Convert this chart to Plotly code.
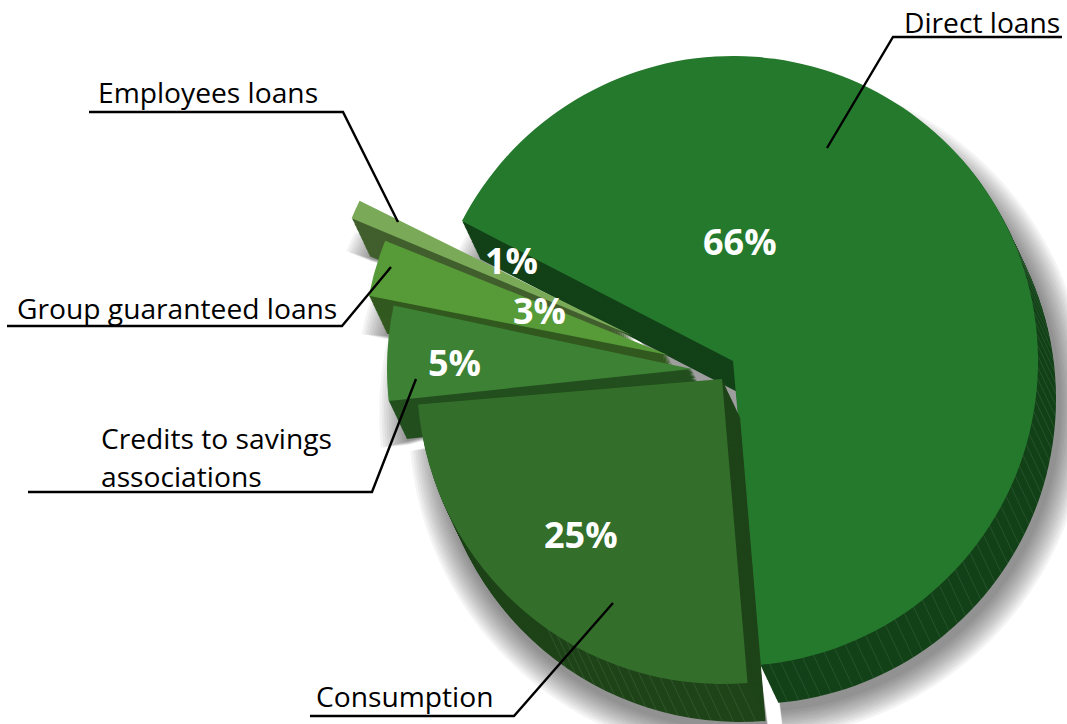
import math
import plotly.graph_objects as go

W, H = 1067, 724

# Loan portfolio shares, in percent
categories = ["Direct loans", "Consumption", "Credits to savings associations",
              "Group guaranteed loans", "Employees loans"]
shares = [66, 25, 5, 3, 1]

top_colors = ["#25792d", "#336f2b", "#3d8135", "#579b38", "#7aaa58"]
side_colors = ["#134118", "#1f4419", "#234f1e", "#32591f", "#425f2e"]

# Exploded placement of each wedge: tip position and clockwise start angle
tips = [(733, 361), (722, 379), (692, 369), (668, 355), (633, 336)]
start_angles = [297.3, 175.2, 264.0, 281.2, 292.7]
RADIUS = 305
EXTRUDE = (18, 38)
DEPTH_LAYERS = 30
SHADOW_LAYERS = 12

# Painter's order: back wedge first, front wedge last
draw_order = [0, 4, 3, 2, 1]


def wedge(i, dx, dy, color):
    """One pie trace showing only wedge i, centred on its own tip plus an offset."""
    cx = tips[i][0] + dx
    cy = tips[i][1] + dy
    r = RADIUS
    before = sum(shares[:i]) / sum(shares) * 360
    colors = ["rgba(0,0,0,0)"] * len(shares)
    colors[i] = color
    return go.Pie(
        labels=categories,
        values=shares,
        sort=False,
        direction="clockwise",
        rotation=((start_angles[i] - before + 180) % 360) - 180,
        domain=dict(x=[(cx - r) / W, (cx + r) / W],
                    y=[1 - (cy + r) / H, 1 - (cy - r) / H]),
        marker=dict(colors=colors, line=dict(width=0)),
        textinfo="none",
        hoverinfo="skip",
        showlegend=False,
    )


def px(x, y):
    return f"{x / W:.5f} {1 - y / H:.5f}"


def polyline(points):
    return "M" + " L".join(px(x, y) for x, y in points)


def rim_point(i, angle, radius=RADIUS):
    a = math.radians(angle)
    return tips[i][0] + radius * math.sin(a), tips[i][1] - radius * math.cos(a)


fig = go.Figure()

# Extruded body, then the top face of each wedge
for i in draw_order:
    for n in range(DEPTH_LAYERS, 0, -1):
        f = n / DEPTH_LAYERS
        fig.add_trace(wedge(i, EXTRUDE[0] * f, EXTRUDE[1] * f, side_colors[i]))
    fig.add_trace(wedge(i, 0, 0, top_colors[i]))

shapes = []

# Soft drop shadow: stacked translucent sectors behind the pie traces
for k in range(1, SHADOW_LAYERS + 1):
    for i in draw_order:
        span = shares[i] / sum(shares) * 360
        steps = max(4, int(span / 2))
        r = RADIUS + 2.4 * k
        sx, sy = EXTRUDE[0] + 3, EXTRUDE[1] + 6
        pts = [tips[i]]
        for s in range(steps + 1):
            x, y = rim_point(i, start_angles[i] + span * s / steps, r)
            pts.append((x + sx, y + sy))
        shapes.append(dict(type="path", xref="paper", yref="paper", layer="below",
                           path=polyline(pts) + " Z", fillcolor="rgba(0,0,0,0.042)",
                           line=dict(width=0)))

# Shaded gap between the wedge tips, mostly covered by the wedges themselves
shapes.append(dict(type="path", xref="paper", yref="paper", layer="below",
                   path=polyline([(630, 333), (737, 375), (741, 425), (690, 385)]) + " Z",
                   fillcolor="rgba(0,0,0,0.38)", line=dict(width=0)))

# Faint segment lines along the outer rim
hatch = []
for i, a0, a1 in [(0, 66, 175), (1, 177, 215)]:
    a = a0
    while a < a1:
        x, y = rim_point(i, a)
        hatch.append(polyline([(x, y), (x + EXTRUDE[0], y + EXTRUDE[1])]))
        a += 2.1
shapes.append(dict(type="path", xref="paper", yref="paper", path=" ".join(hatch),
                   line=dict(color="rgba(130,165,130,0.3)", width=0.6)))

# Leader lines from the captions to their wedges
leaders = [
    [(1062, 37), (893, 37), (827, 148)],
    [(89, 112), (343, 112), (398, 222)],
    [(7, 326), (342, 326), (391, 267)],
    [(28, 492), (372, 492), (416, 379)],
    [(310, 716), (514, 716), (613, 603)],
]
for pts in leaders:
    shapes.append(dict(type="path", xref="paper", yref="paper", path=polyline(pts),
                       line=dict(color="black", width=2.4)))

annotations = []

captions = [
    ("Direct loans", 902, 22),
    ("Employees loans", 96, 92),
    ("Group guaranteed loans", 15, 308),
    ("Credits to savings", 99, 438),
    ("associations", 99, 476),
    ("Consumption", 314, 696),
]
for text, x, y in captions:
    annotations.append(dict(text=text, x=x / W, y=1 - y / H, xref="paper", yref="paper",
                            xanchor="left", yanchor="middle", showarrow=False,
                            font=dict(family="Open Sans", size=28.2, color="black")))

value_spots = [(740, 242), (581, 534), (454, 362), (539, 310), (511, 261)]
for v, (x, y) in zip(shares, value_spots):
    annotations.append(dict(text=f"<b>{v}%</b>", x=x / W, y=1 - y / H, xref="paper", yref="paper",
                            xanchor="center", yanchor="middle", showarrow=False,
                            font=dict(family="Open Sans", size=36, color="white")))

fig.update_layout(width=W, height=H, autosize=False,
                  margin=dict(l=0, r=0, t=0, b=0),
                  paper_bgcolor="white", plot_bgcolor="white",
                  shapes=shapes, annotations=annotations)

fig.write_html("out.html")
